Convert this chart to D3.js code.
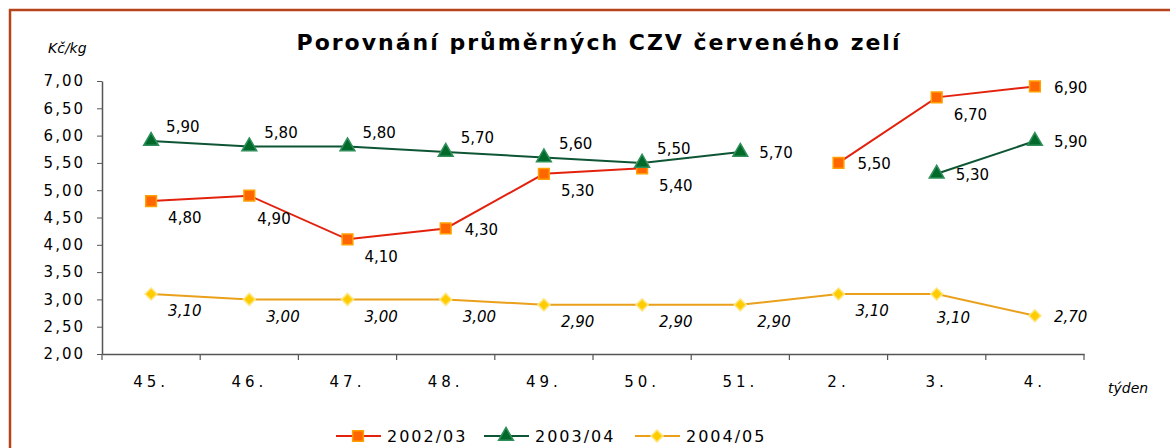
<html>
<script src="https://d3js.org/d3.v7.min.js"></script>
<style>
  body { margin: 0; background: #fff; }
  text { font-family: "DejaVu Sans", Verdana, sans-serif; fill: #000; }
</style>
<body>
<svg id="chart" width="1170" height="448"></svg>
<script>
// data
var weeks = ["45.", "46.", "47.", "48.", "49.", "50.", "51.", "2.", "3.", "4."];
var s2002 = [4.80, 4.90, 4.10, 4.30, 5.30, 5.40, null, 5.50, 6.70, 6.90];
var s2003 = [5.90, 5.80, 5.80, 5.70, 5.60, 5.50, 5.70, null, 5.30, 5.90];
var s2004 = [3.10, 3.00, 3.00, 3.00, 2.90, 2.90, 2.90, 3.10, 3.10, 2.70];
var yTicks = [2, 2.5, 3, 3.5, 4, 4.5, 5, 5.5, 6, 6.5, 7];
var seriesNames = ["2002/03", "2003/04", "2004/05"];

// where each value label sits next to its point
var place = {
  br: [17, 17], ar: [15, -14], r: [19, 1], b: [0, 24], bb: [8, 23]
};
var labels2002 = ["br", "bb", "br", "r", "br", "br", null, "r", "br", "r"];
var labels2003 = ["ar", "ar", "ar", "ar", "ar", "ar", "r", null, "r", "r"];
var labels2004 = ["br", "br", "br", "br", "br", "br", "br", "br", "b", "r"];

var svg = d3.select("#chart");

// frame
svg.append("rect")
  .attr("x", 10).attr("y", 10).attr("width", 1200).attr("height", 500)
  .attr("fill", "none").attr("stroke", "#b5441a").attr("stroke-width", 2.5);

var x = d3.scaleBand().domain(weeks).range([102, 1084]).padding(0);
var y = d3.scaleLinear().domain([2, 7]).range([354, 81]);
var cx = function(i) { return x(weeks[i]) + x.bandwidth() / 2; };
var fmt = function(v) { return d3.format(".2f")(v).replace(".", ","); };

// title
svg.append("text")
  .attr("x", 599).attr("y", 50)
  .attr("text-anchor", "middle")
  .style("font-size", "22px").style("font-weight", "bold").style("letter-spacing", "2px")
  .text("Porovnání průměrných CZV červeného zelí");

svg.append("text")
  .attr("x", 48).attr("y", 53)
  .style("font-size", "14px").style("font-style", "italic")
  .text("Kč/kg");

// y axis
var yAxis = svg.append("g").attr("transform", "translate(102,0)")
  .call(d3.axisLeft(y).tickValues(yTicks).tickFormat(fmt).tickSize(5).tickSizeOuter(0).tickPadding(12));
yAxis.select(".domain").attr("stroke", "#555").attr("stroke-width", 1.5);
yAxis.selectAll(".tick line").attr("stroke", "#555");
yAxis.selectAll("text")
  .style("font-size", "15px").style("letter-spacing", "2px")
  .style("font-family", "'DejaVu Sans', sans-serif").attr("fill", "#000");

// x axis
var xAxis = svg.append("g").attr("transform", "translate(0,354)")
  .call(d3.axisBottom(x).tickSize(0).tickPadding(22));
xAxis.select(".domain").attr("stroke", "#555").attr("stroke-width", 1.5);
xAxis.selectAll("text")
  .style("font-size", "15px").style("letter-spacing", "4px")
  .style("font-family", "'DejaVu Sans', sans-serif").attr("fill", "#000");
xAxis.selectAll(".bound").data(weeks.concat([null])).enter().append("line")
  .attr("class", "bound")
  .attr("x1", function(d, i) { return x.range()[0] + i * x.bandwidth(); })
  .attr("x2", function(d, i) { return x.range()[0] + i * x.bandwidth(); })
  .attr("y1", 0).attr("y2", 6)
  .attr("stroke", "#555").attr("stroke-width", 1.2);

svg.append("text")
  .attr("x", 1108).attr("y", 393)
  .style("font-size", "14px").style("font-style", "italic")
  .text("týden");

// series
var series = [
  { name: seriesNames[0], values: s2002, labels: labels2002, line: "#e3220e",
    sym: d3.symbolSquare, size: 115, rot: 0, fill: "#ff6600", stroke: "#ffa000", italic: false },
  { name: seriesNames[1], values: s2003, labels: labels2003, line: "#0d5535",
    sym: d3.symbolTriangle, size: 95, rot: 0, fill: "#006a2a", stroke: "#2f8f5a", italic: false },
  { name: seriesNames[2], values: s2004, labels: labels2004, line: "#eaa01a",
    sym: d3.symbolSquare, size: 72, rot: 45, fill: "#ffcc00", stroke: "#ffe680", italic: true }
];

var line = d3.line()
  .defined(function(d) { return d != null; })
  .x(function(d, i) { return cx(i); })
  .y(function(d) { return y(d); });

series.forEach(function(s) {
  svg.append("path").datum(s.values)
    .attr("d", line).attr("fill", "none")
    .attr("stroke", s.line).attr("stroke-width", 2);
});

series.forEach(function(s) {
  var g = svg.append("g");
  s.values.forEach(function(v, i) {
    if (v == null) return;
    g.append("path")
      .attr("d", d3.symbol().type(s.sym).size(s.size)())
      .attr("transform", "translate(" + cx(i) + "," + y(v) + ") rotate(" + s.rot + ")")
      .attr("fill", s.fill).attr("stroke", s.stroke).attr("stroke-width", 1.5);
    var off = place[s.labels[i]];
    g.append("text")
      .attr("x", cx(i) + off[0]).attr("y", y(v) + off[1])
      .attr("dy", "0.35em")
      .style("font-size", "15px")
      .style("font-style", s.italic ? "italic" : "normal")
      .text(fmt(v));
  });
});

// legend
var legX = [336, 484, 635];
series.forEach(function(s, k) {
  var lg = svg.append("g").attr("transform", "translate(" + legX[k] + ",436)");
  lg.append("line").attr("x1", 0).attr("x2", 45).attr("y1", 0).attr("y2", 0)
    .attr("stroke", s.line).attr("stroke-width", 2);
  lg.append("path")
    .attr("d", d3.symbol().type(s.sym).size(s.size)())
    .attr("transform", "translate(22,0) rotate(" + s.rot + ")")
    .attr("fill", s.fill).attr("stroke", s.stroke).attr("stroke-width", 1.5);
  lg.append("text").attr("x", 51).attr("dy", "0.35em")
    .style("font-size", "16px").style("letter-spacing", "2px")
    .text(s.name);
});
</script>
</body>
</html>
